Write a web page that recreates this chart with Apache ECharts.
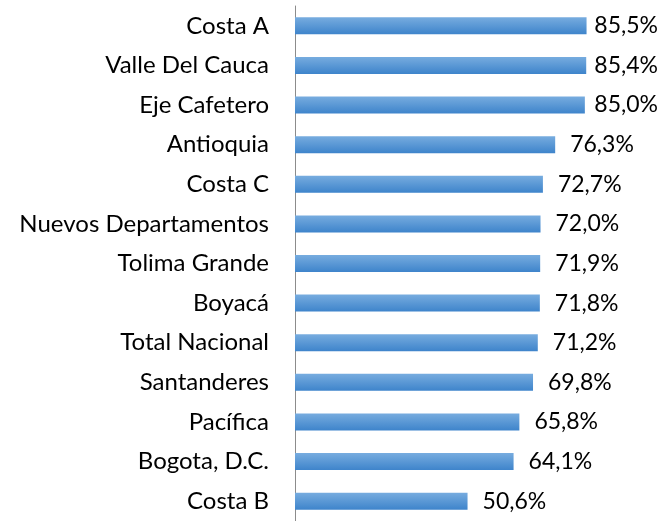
<!DOCTYPE html>
<html>
<head>
<meta charset="utf-8">
<script src="https://cdn.jsdelivr.net/npm/echarts@6/dist/echarts.min.js"></script>
<style>
  html, body { margin: 0; padding: 0; background: #fff; }
  #main { width: 659px; height: 521px; }
</style>
</head>
<body>
<div id="main"></div>
<script>
var regiones = ['Costa A', 'Valle Del Cauca', 'Eje Cafetero', 'Antioquia', 'Costa C',
  'Nuevos Departamentos', 'Tolima Grande', 'Boyacá', 'Total Nacional', 'Santanderes',
  'Pacífica', 'Bogota, D.C.', 'Costa B'];
var porcentajes = [85.5, 85.4, 85.0, 76.3, 72.7, 72.0, 71.9, 71.8, 71.2, 69.8, 65.8, 64.1, 50.6];

var fuente = 'Lato';
var anchoTotal = 659;

var myChart = echarts.init(document.getElementById('main'));
var option = {
  animation: false,
  grid: {
    left: 295,
    right: 23,
    top: 6,
    bottom: -4
  },
  xAxis: {
    type: 'value',
    min: 0,
    max: 100,
    show: false
  },
  yAxis: {
    type: 'category',
    inverse: true,
    data: regiones,
    axisLine: {
      lineStyle: { color: '#8c8c8c', width: 1 }
    },
    axisTick: {
      length: 7,
      lineStyle: { color: '#8c8c8c' }
    },
    axisLabel: {
      margin: 26,
      color: '#000',
      fontFamily: fuente,
      fontSize: 24
    }
  },
  series: [{
    type: 'bar',
    data: porcentajes,
    barWidth: 17,
    itemStyle: {
      color: new echarts.graphic.LinearGradient(0, 0, 0, 1, [
        { offset: 0, color: '#77acdf' },
        { offset: 1, color: '#3e84cb' }
      ])
    },
    label: {
      show: true,
      position: 'right',
      distance: 15,
      color: '#000',
      fontFamily: fuente,
      fontSize: 23,
      formatter: function (p) {
        return p.value.toFixed(1).replace('.', ',') + '%';
      }
    },
    // como en Excel: si la etiqueta no cabe, se corre hacia la barra
    labelLayout: function (params) {
      var r = params.labelRect;
      if (r.x + r.width > anchoTotal - 1) {
        return {
          x: anchoTotal - 1 - r.width,
          y: r.y + r.height / 2,
          align: 'left',
          verticalAlign: 'middle'
        };
      }
      return {};
    }
  }]
};
myChart.setOption(option);
</script>
</body>
</html>
